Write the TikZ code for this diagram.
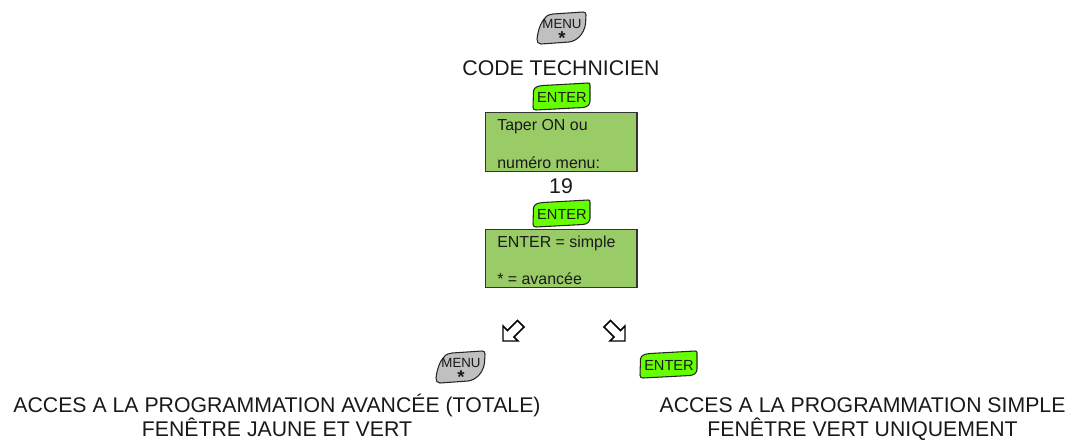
\documentclass[tikz,border=0pt]{standalone}
\usepackage{fontspec}
\setmainfont{Liberation Sans}
\definecolor{lcdgreen}{HTML}{99CC66}
\definecolor{keygreen}{HTML}{66FF00}
\definecolor{keygrey}{HTML}{C0C0C0}
\tikzset{
    lcdbox/.style={draw=black!80, thick, fill=lcdgreen, minimum width=113.6bp, minimum height=44bp, inner sep=0pt},
    lcdtext/.style={anchor=base west, font=\fontsize{12}{14}\selectfont, text=black!90, inner sep=0pt},
    keytext/.style={font=\fontsize{11}{12}\selectfont, inner sep=0pt, text=black!90},
    bigtext/.style={anchor=base, font=\fontsize{16}{18.4}\selectfont, inner sep=0pt, text=black!90},
    menukey/.pic={
        \draw[fill=keygrey, draw=black!85, thick] (46,0) .. controls (48,0) and (49,1) .. (49,3)
            -- (48.5,12) .. controls (47,22) and (40,29) .. (32,30)
            -- (4,32) .. controls (1,32) and (0,30) .. (0,27)
            .. controls (1,18) and (4,10) .. (8,6) .. controls (10,3) and (13,2.5) .. (16,2) -- cycle;
        \node[keytext, font=\fontsize{10}{12}\selectfont] (-label) at (25,12) {MENU};
        \node[keytext, font=\bfseries\fontsize{14}{14}\selectfont] (-star) at (25,26) {*};
    },
    enterkey/.pic={
        \draw[fill=keygreen, draw=black!85, thick] (55,0) .. controls (56.5,0) and (57,0.5) .. (57,2)
            -- (57,18) .. controls (57,22) and (54,24) .. (50,24.5)
            -- (3,27) .. controls (1,27) and (0,26) .. (0,24)
            -- (0.5,8) .. controls (1,4) and (5,3) .. (10,2.5) -- cycle;
        \node[keytext] (-label) at (29,14) {ENTER};
    },
    hollowarrow/.pic={
        \draw[fill=white, line width=1.1pt, line join=miter] (0,21) -- (0,6) -- (4.5,10.5) -- (14.5,0.5)
            -- (21,7) -- (11,17) -- (15,21) -- cycle;
    },
}
\begin{document}
\begin{tikzpicture}[x=0.75bp, y=-0.75bp]
    \useasboundingbox (0,0) rectangle (1069,439);

    % top of the sequence
    \pic (menutop) at (537,12) {menukey};
    \node[bigtext] (code) at (561,75) {CODE TECHNICIEN};
    \pic (entertop) at (533,83) {enterkey};

    % first display
    \node[lcdbox] (lcdone) at (561.25,141.75) {};
    \node[lcdtext] (lcdoneup) at (497,130) {Taper ON ou};
    \node[lcdtext] (lcdonedown) at (497,168) {numéro menu:};

    \node[bigtext] (nineteen) at (561,193) {19};
    \pic (entermid) at (533,200) {enterkey};

    % second display
    \node[lcdbox] (lcdtwo) at (561.25,258.5) {};
    \node[lcdtext] (lcdtwoup) at (497,247) {ENTER = simple};
    \node[lcdtext] (lcdtwodown) at (497,284) {* = avancée};

    % both ways out
    \pic (arrowleft) at (503,320) {hollowarrow};
    \pic[transform shape, xscale=-1] (arrowright) at (625,320) {hollowarrow};
    \pic (menuleft) at (436,351) {menukey};
    \pic (enterright) at (640,351) {enterkey};

    \node[bigtext] (advancedup) at (277,412.5) {ACCES A LA PROGRAMMATION AVANCÉE (TOTALE)};
    \node[bigtext] (advanceddown) at (277,436.5) {FENÊTRE JAUNE ET VERT};
    \node[bigtext] (simpleup) at (862.5,412.5) {ACCES A LA PROGRAMMATION SIMPLE};
    \node[bigtext] (simpledown) at (862.5,436.5) {FENÊTRE VERT UNIQUEMENT};
\end{tikzpicture}
\end{document}
